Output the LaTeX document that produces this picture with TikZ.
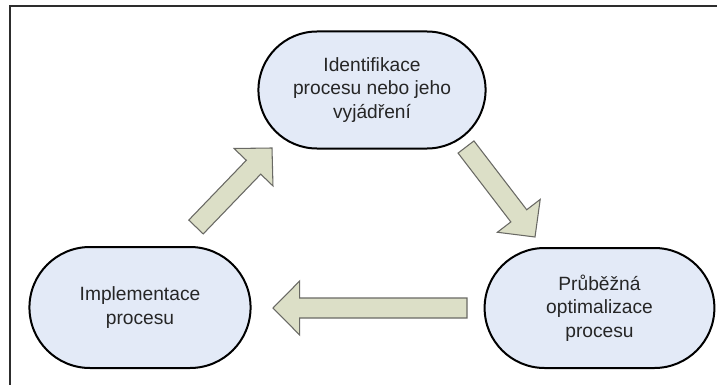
\documentclass[tikz,border=0pt]{standalone}
\usepackage{fontspec}
\setmainfont{Liberation Sans}
\usetikzlibrary{shapes.misc,calc}

\definecolor{procfill}{RGB}{227,234,247}
\definecolor{arrowfill}{RGB}{220,223,199}
\definecolor{arrowline}{RGB}{105,105,100}
\definecolor{framecol}{RGB}{45,45,45}

\tikzset{
  procnode/.style={rounded rectangle, draw=black, line width=1.5pt, fill=procfill,
    align=center, text=black!85, font=\fontsize{14.4}{17.8}\selectfont},
  fatarrow/.style={draw=arrowline, fill=arrowfill, line width=0.8pt, line join=miter},
}

% block arrow from tail #1 to tip #2 (both named coordinates)
\newcommand{\fatarr}[2]{%
  \coordinate (#2base) at ($(#2)!20pt!(#1)$);
  \draw[fatarrow] ($(#1)!7.5pt!90:(#2)$) -- ($(#2base)!7.5pt!90:(#2)$) -- ($(#2base)!20.25pt!90:(#2)$) -- (#2)
    -- ($(#2base)!20.25pt!-90:(#2)$) -- ($(#2base)!7.5pt!-90:(#2)$) -- ($(#1)!7.5pt!-90:(#2)$) -- cycle;
}

\begin{document}
\begin{tikzpicture}[x=0.75pt,y=0.75pt,yscale=-1,xscale=1]
        \useasboundingbox (0,0) rectangle (717,385);

        %Straight Lines: frame
        \draw [framecol, line width=1.1pt] (10,385) -- (10,6) -- (717,6) ;

        %Shape: Rounded Rect [identifikace]
        \node [procnode, minimum width=177pt, minimum height=87.75pt] (ident) at (372,90) {Identifikace\\procesu nebo jeho\\vyjádření};
        %Shape: Rounded Rect [optimalizace]
        \node [procnode, minimum width=179pt, minimum height=90pt] (optim) at (599.5,308) {Průběžná\\optimalizace\\procesu};
        %Shape: Rounded Rect [implementace]
        \node [procnode, minimum width=172.5pt, minimum height=90.75pt] (impl) at (140,307.5) {Implementace\\procesu};

        %Block Arrows
        \coordinate (upTail) at (196,227);
        \coordinate (upTip) at (272,148);
        \coordinate (dnTail) at (466,147);
        \coordinate (dnTip) at (535,237);
        \coordinate (ltTail) at (467,308);
        \coordinate (ltTip) at (273,308);
        \fatarr{dnTail}{dnTip}
        \fatarr{ltTail}{ltTip}
        \fatarr{upTail}{upTip}
\end{tikzpicture}
\end{document}
